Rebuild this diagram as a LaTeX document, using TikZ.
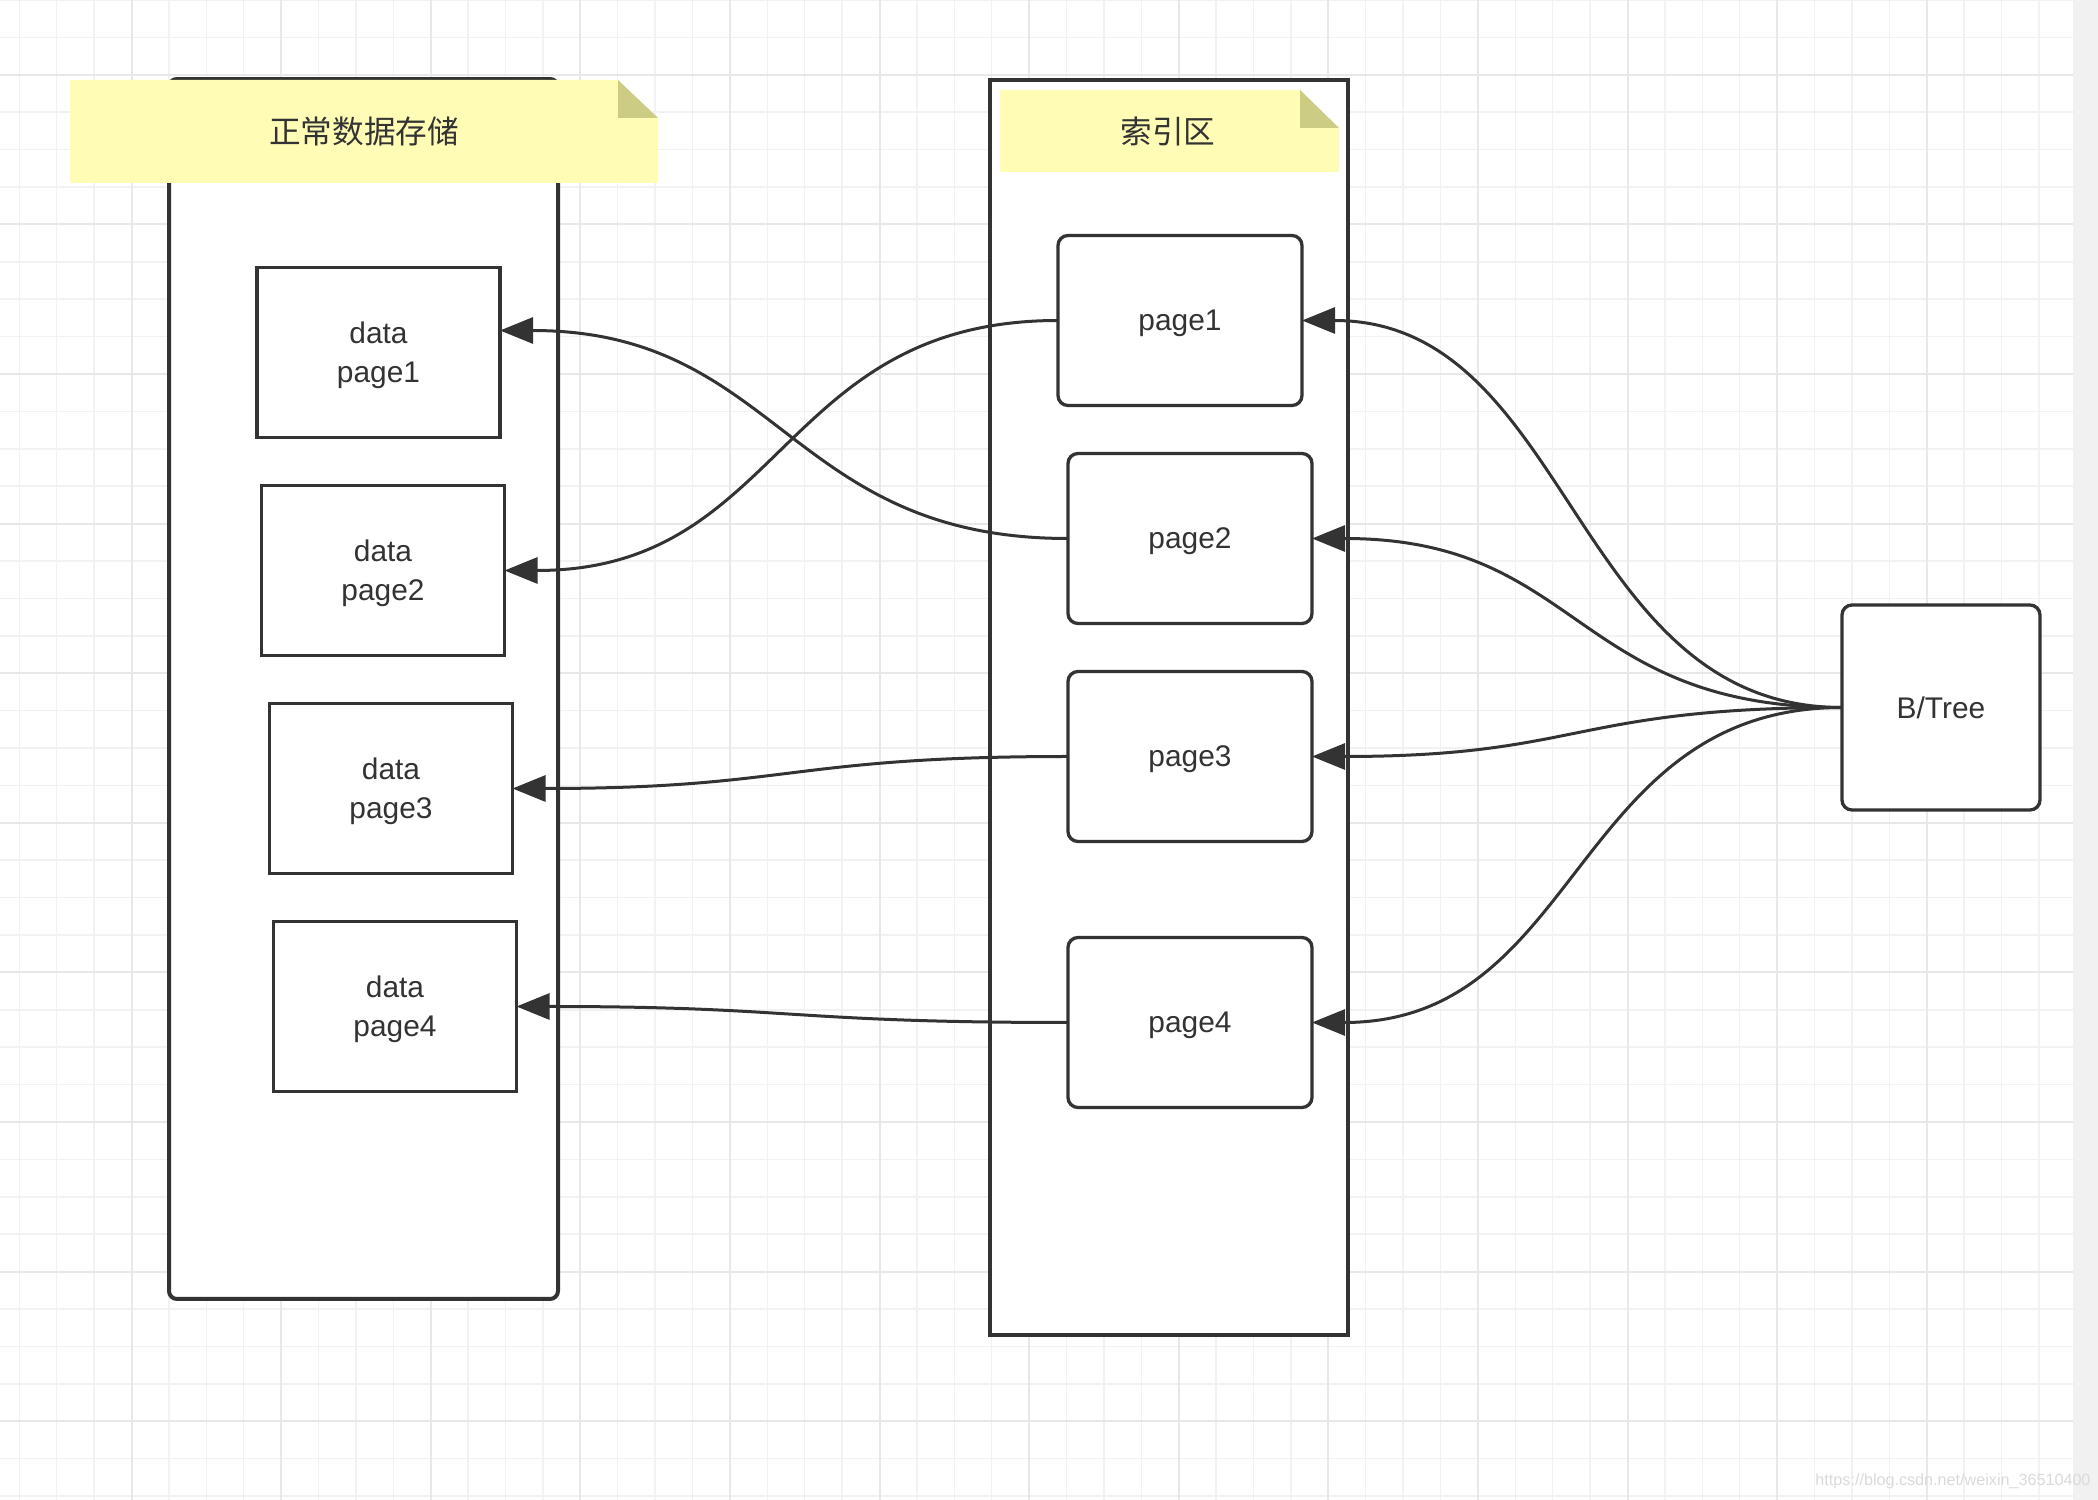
\documentclass[tikz,border=0pt]{standalone}
\usepackage{fontspec}
\setmainfont{Liberation Sans}
\newfontfamily\cjk{Noto Sans CJK SC}
\usetikzlibrary{positioning, arrows.meta}

\definecolor{ink}{HTML}{333333}
\definecolor{notefill}{HTML}{FFFCB5}
\definecolor{notefold}{HTML}{CCCC85}
\definecolor{gridminor}{HTML}{F2F2F2}
\definecolor{gridmajor}{HTML}{E8E8E8}
\definecolor{sidestrip}{HTML}{F1F1F1}
\definecolor{markgray}{HTML}{DADADA}

\begin{document}
\begin{tikzpicture}[x=0.1mm, y=-0.1mm, % 1 unit = 1 px of the drawing
font=\fontsize{8.5}{11}\selectfont, text=ink,
node distance=4.8mm,
square/.style={rectangle, draw=ink, line width=0.33mm, fill=white, inner sep=0pt, outer sep=0pt, minimum width=24.3mm, minimum height=17mm, align=center, text depth=0pt},
square_rounded/.style={square, rounded corners=1mm, minimum width=24.4mm},
area/.style={rectangle, draw=ink, line width=0.4mm, fill=white, inner sep=0pt, outer sep=0pt},
note_text/.style={font=\cjk\fontsize{9}{11}\selectfont},
link/.style={draw=ink, line width=0.3mm, -{Triangle[length=3.3mm, width=2.6mm]}},
grid_minor/.style={draw=gridminor, line width=0.15mm},
grid_major/.style={draw=gridmajor, line width=0.2mm},
]
\useasboundingbox (0,0) rectangle (2098,1500);

% background grid
\foreach \gx in {0,...,54} \draw[grid_minor] ({19.3+\gx*37.4},0) -- ({19.3+\gx*37.4},1500);
\foreach \gy in {0,...,40} \draw[grid_minor] (0,{\gy*37.4}) -- (2073,{\gy*37.4});
\foreach \gx in {0,...,12} \draw[grid_major] ({131.5+\gx*149.6},0) -- ({131.5+\gx*149.6},1500);
\foreach \gy in {0,...,9} \draw[grid_major] (0,{74.8+\gy*149.6}) -- (2073,{74.8+\gy*149.6});
\fill[sidestrip] (2073,0) rectangle (2098,1500);

% the two areas
\node[area, rounded corners=0.8mm, minimum width=38.9mm, minimum height=122mm](storage_area) at (363.5,689){};
\node[area, minimum width=35.8mm, minimum height=125.5mm](index_area) at (1169,707.5){};

% sticky notes
\fill[notefill] (70,80) -- (618,80) -- (658,118) -- (658,183) -- (70,183) -- cycle;
\fill[notefold] (618,80) -- (618,118) -- (658,118) -- cycle;
\node[note_text](storage_note) at (364,131){正常数据存储};

\fill[notefill] (1000,90) -- (1300,90) -- (1339,128) -- (1339,172) -- (1000,172) -- cycle;
\fill[notefold] (1300,90) -- (1300,128) -- (1339,128) -- cycle;
\node[note_text](index_note) at (1168,131){索引区};

% \node[type](name_of_node)[below=of name_of_node]{text_in_node}
\node[square](data_page_one) at (378.5,352.5){data\\page1};
\node[square](data_page_two)[below=of data_page_one, xshift=0.45mm]{data\\page2};
\node[square](data_page_three)[below=of data_page_two, xshift=0.8mm]{data\\page3};
\node[square](data_page_four)[below=of data_page_three, xshift=0.4mm]{data\\page4};

\node[square_rounded](index_page_one) at (1180,320.5){page1};
\node[square_rounded](index_page_two)[below=of index_page_one, xshift=1mm]{page2};
\node[square_rounded](index_page_three)[below=of index_page_two]{page3};
\node[square_rounded](index_page_four)[below=9.6mm of index_page_three]{page4};

\node[square_rounded, text depth=, minimum width=19.8mm, minimum height=20.5mm](btree) at (1941,707.5){B/Tree};

% index pages -> data pages
\draw[link] (index_page_one.west) .. controls +(left:28mm) and +(right:28mm) .. (data_page_two.east);
\draw[link] (index_page_two.west) .. controls +(left:28mm) and +(right:28mm) .. ([yshift=2.2mm]data_page_one.east);
\draw[link] (index_page_three.west) .. controls +(left:28mm) and +(right:28mm) .. (data_page_three.east);
\draw[link] (index_page_four.west) .. controls +(left:28mm) and +(right:28mm) .. (data_page_four.east);

% B/Tree -> index pages
\draw[link] (btree.west) .. controls +(left:27mm) and +(right:27mm) .. (index_page_one.east);
\draw[link] (btree.west) .. controls +(left:27mm) and +(right:27mm) .. (index_page_two.east);
\draw[link] (btree.west) .. controls +(left:27mm) and +(right:27mm) .. (index_page_three.east);
\draw[link] (btree.west) .. controls +(left:27mm) and +(right:27mm) .. (index_page_four.east);

\node[text=markgray, font=\fontsize{4.6}{5.5}\selectfont](csdn_mark) at (1953,1481){https://blog.csdn.net/weixin\_36510400};

\end{tikzpicture}
\end{document}
